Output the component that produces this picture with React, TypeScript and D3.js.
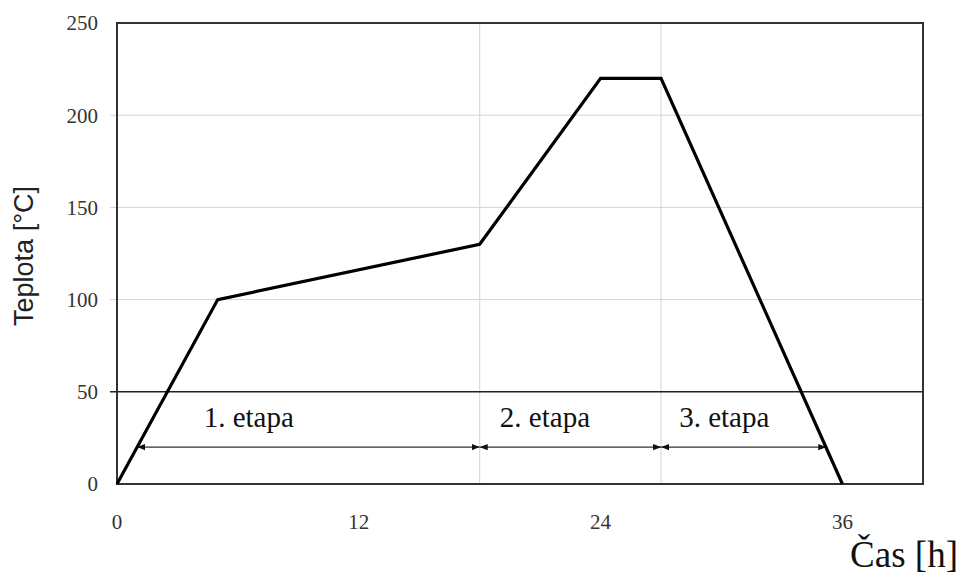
import { useEffect, useRef } from "react";
import * as d3 from "d3";

// temperature profile (time in h, temperature in °C)
const hours = [0, 5, 18, 24, 27, 36];
const temps = [0, 100, 130, 220, 220, 0];

const xTicks = [0, 12, 24, 36];
const yTicks = [0, 50, 100, 150, 200, 250];

// stages: start/end time, label anchor time
const stageNames = ["1. etapa", "2. etapa", "3. etapa"];
const stageStart = [1, 18, 27];
const stageEnd = [18, 27, 35.2];
const stageLabelAt = [4.3, 19, 27.9];
const stageLevel = 20;
const stageLabelLevel = 31;
const boundaries = [18, 27];

export default function App() {
  const svgRef = useRef<SVGSVGElement | null>(null);

  useEffect(() => {
    if (!svgRef.current) return;
    const svg = d3.select(svgRef.current);
    svg.selectAll("*").remove();

    const w = 960;
    const h = 576;
    const margin = { top: 23, right: 37, bottom: 92, left: 117 };
    const innerW = w - margin.left - margin.right;
    const innerH = h - margin.top - margin.bottom;

    const x = d3.scaleLinear().domain([0, 40]).range([0, innerW]);
    const y = d3.scaleLinear().domain([0, 250]).range([innerH, 0]);

    const defs = svg.append("defs");
    defs
      .append("marker")
      .attr("id", "head")
      .attr("viewBox", "0 0 10 10")
      .attr("refX", 10)
      .attr("refY", 5)
      .attr("markerWidth", 8)
      .attr("markerHeight", 8)
      .attr("markerUnits", "userSpaceOnUse")
      .attr("orient", "auto-start-reverse")
      .append("path")
      .attr("d", "M0,1 L10,5 L0,9 Z")
      .attr("fill", "#111");

    const g = svg
      .append("g")
      .attr("transform", `translate(${margin.left},${margin.top})`);

    // light grid
    g.selectAll(".hgrid")
      .data(yTicks.filter((t) => t !== 0 && t !== 50 && t !== 250))
      .join("line")
      .attr("x1", -7)
      .attr("x2", innerW)
      .attr("y1", (d) => y(d))
      .attr("y2", (d) => y(d))
      .attr("stroke", "#d4d4d4")
      .attr("stroke-width", 1);

    g.selectAll(".vgrid")
      .data(boundaries)
      .join("line")
      .attr("x1", (d) => x(d))
      .attr("x2", (d) => x(d))
      .attr("y1", 0)
      .attr("y2", innerH)
      .attr("stroke", "#d4d4d4")
      .attr("stroke-width", 1);

    // 50 °C line
    g.append("line")
      .attr("x1", -7)
      .attr("x2", innerW)
      .attr("y1", y(50))
      .attr("y2", y(50))
      .attr("stroke", "#222")
      .attr("stroke-width", 1.6);

    // frame
    g.append("rect")
      .attr("x", 0)
      .attr("y", 0)
      .attr("width", innerW)
      .attr("height", innerH)
      .attr("fill", "none")
      .attr("stroke", "#333")
      .attr("stroke-width", 2);

    // y tick labels
    g.selectAll(".ylab")
      .data(yTicks)
      .join("text")
      .attr("x", -19)
      .attr("y", (d) => y(d))
      .attr("dy", "0.35em")
      .attr("text-anchor", "end")
      .attr("font-family", "Liberation Serif, serif")
      .attr("font-size", 21)
      .attr("fill", "#333")
      .text((d) => d);

    // x tick labels
    g.selectAll(".xlab")
      .data(xTicks)
      .join("text")
      .attr("x", (d) => x(d))
      .attr("y", innerH + 45)
      .attr("text-anchor", "middle")
      .attr("font-family", "Liberation Serif, serif")
      .attr("font-size", 21)
      .attr("fill", "#333")
      .text((d) => d);

    // stage arrows
    g.selectAll(".stage")
      .data(stageNames)
      .join("line")
      .attr("x1", (_, i) => x(stageStart[i]))
      .attr("x2", (_, i) => x(stageEnd[i]))
      .attr("y1", y(stageLevel))
      .attr("y2", y(stageLevel))
      .attr("stroke", "#333")
      .attr("stroke-width", 1.2)
      .attr("marker-start", "url(#head)")
      .attr("marker-end", "url(#head)");

    g.selectAll(".stageLab")
      .data(stageNames)
      .join("text")
      .attr("x", (_, i) => x(stageLabelAt[i]))
      .attr("y", y(stageLabelLevel))
      .attr("font-family", "Liberation Serif, serif")
      .attr("font-size", 29)
      .attr("fill", "#111")
      .text((d) => d);

    // temperature line
    const line = d3
      .line<number>()
      .x((_, i) => x(hours[i]))
      .y((d) => y(d));
    g.append("path")
      .datum(temps)
      .attr("d", line)
      .attr("fill", "none")
      .attr("stroke", "#000")
      .attr("stroke-width", 3.2)
      .attr("stroke-linejoin", "miter");

    // axis titles
    svg
      .append("text")
      .attr("transform", `translate(33,256) rotate(-90)`)
      .attr("text-anchor", "middle")
      .attr("font-family", "Liberation Sans, Arial, sans-serif")
      .attr("font-size", 27)
      .attr("fill", "#222")
      .text("Teplota [°C]");

    svg
      .append("text")
      .attr("x", 958)
      .attr("y", 567)
      .attr("text-anchor", "end")
      .attr("font-family", "Liberation Serif, serif")
      .attr("font-size", 37)
      .attr("fill", "#111")
      .text("Čas [h]");
  }, []);

  return (
    <svg
      ref={svgRef}
      width={960}
      height={576}
      style={{ position: "absolute", left: 0, top: 0, background: "#fff" }}
    />
  );
}
